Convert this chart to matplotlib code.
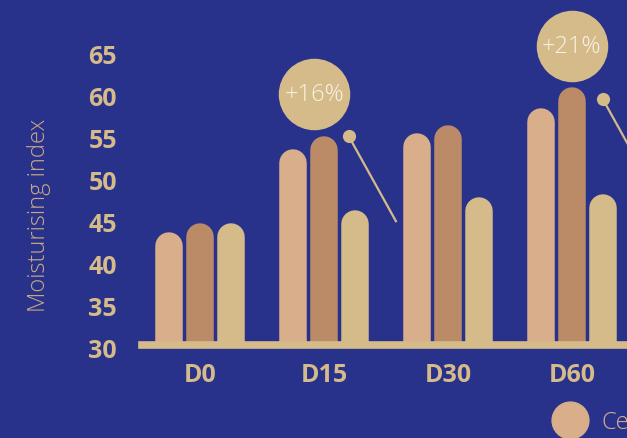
import numpy as np
import matplotlib
matplotlib.use("Agg")
import matplotlib.pyplot as plt
from matplotlib.lines import Line2D

# data
days = ["D0", "D15", "D30", "D60"]
series_a = [43.8, 53.7, 55.6, 58.6]
series_b = [44.9, 55.2, 56.5, 61.0]
series_c = [44.8, 46.4, 47.9, 48.3]
legend_names = ["Ce"]

# callouts: text, bubble centre, dot, line end (data coords)
callout_text = ["+16%", "+21%"]
callout_xy = [(0.92, 60.2), (3.0, 66.0)]
callout_dot = [(1.20, 55.2), (3.25, 59.6)]
callout_end = [(1.58, 45.1), (3.63, 49.5)]

bg = "#29328a"
c_a = "#d8ae8b"
c_b = "#bb8b67"
c_c = "#d5ba8a"
tick_col = "#d5ba8a"

plt.rcParams["font.family"] = ["Open Sans", "DejaVu Sans"]

W, H = 627, 439
fig = plt.figure(figsize=(W / 100, H / 100), dpi=100)
fig.patch.set_facecolor(bg)
ax = fig.add_axes([142 / W, (H - 349) / H, (W - 142) / W, 349 / H])
ax.set_facecolor(bg)

px_per_unit = 8.4
ymin = 30
ax.set_ylim(ymin, ymin + 349 / px_per_unit)
ax.set_xlim(-0.468, 3.444)

x = np.arange(len(days))
offsets = [-0.25, 0, 0.25]
bar_px = 27.5
lw_pt = bar_px * 0.72
half = (bar_px / 2) / px_per_unit

# bars with rounded tops (round caps, bottom clipped by the axes)
for vals, off, col in zip([series_a, series_b, series_c], offsets, [c_a, c_b, c_c]):
    for xi, v in zip(x, vals):
        ax.plot([xi + off, xi + off], [ymin - 5, v - half], color=col,
                lw=lw_pt, solid_capstyle="round", zorder=2)

ax.axhline(ymin + 0.3, color=c_c, lw=5.5, zorder=3, clip_on=False)

for txt, (bx, by), (dx, dy), (ex, ey) in zip(callout_text, callout_xy, callout_dot, callout_end):
    ax.scatter([bx], [by], s=2650, color=c_c, zorder=4, clip_on=False, linewidths=0)
    ax.text(bx, by, txt, ha="center", va="center", color="#f8f3e6",
            fontsize=17, fontweight="light", zorder=5)
    ax.plot([dx, ex], [dy, ey], color=c_c, lw=1.6, zorder=4)
    ax.scatter([dx], [dy], s=90, color=c_c, zorder=4, linewidths=0)

ax.set_yticks(np.arange(30, 66, 5))
ax.set_xticks(x)
ax.set_xticklabels(days)
ax.tick_params(axis="y", length=0, pad=18, labelsize=18, labelcolor=tick_col)
ax.tick_params(axis="x", length=0, pad=10, labelsize=18, labelcolor=tick_col)
for lab in ax.get_xticklabels() + ax.get_yticklabels():
    lab.set_fontweight("bold")
for s in ax.spines.values():
    s.set_visible(False)

fig.text(39 / W, 1 - 215 / H, "Moisturising index", rotation=90, ha="center",
         va="center", color="#c9a886", fontsize=17, fontweight="light")

handles = [Line2D([], [], marker="o", ls="", color=c_a, markersize=26.5)]
fig.legend(handles, legend_names, loc="center left", bbox_to_anchor=(525 / W, 1 - 423 / H),
           frameon=False, labelcolor=c_a, handletextpad=0.35,
           prop={"weight": "light", "size": 17})

fig.savefig("out.png", dpi=100, facecolor=bg)
